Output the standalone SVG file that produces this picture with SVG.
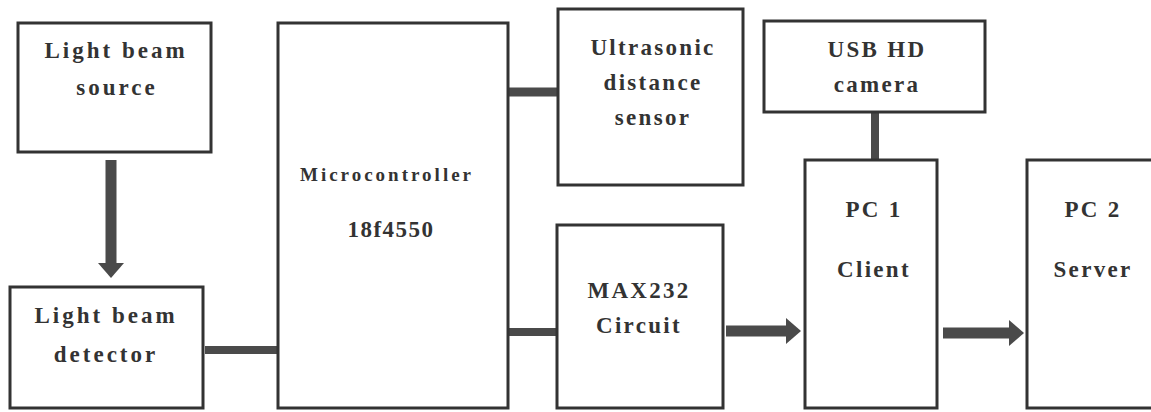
<svg xmlns="http://www.w3.org/2000/svg" width="1151" height="412" viewBox="0 0 1151 412">
<style>
.box{fill:#fff;stroke:#333;stroke-width:3}
.t{font-family:"Liberation Serif","DejaVu Serif",serif;font-weight:bold;font-size:23px;fill:#333;text-anchor:middle;letter-spacing:3px}
.ts{font-size:19px;letter-spacing:3px}
.n{letter-spacing:2.3px}
.c{stroke:#4a4a4a;fill:none}
</style>
<defs>
<marker id="ah" markerUnits="userSpaceOnUse" markerWidth="15" markerHeight="26" viewBox="0 0 15 26" refX="0" refY="13" orient="auto">
<path d="M0,0 L15,13 L0,26 z" fill="#4a4a4a"/>
</marker>
</defs>
<rect width="1151" height="412" fill="#fff"/>
<g id="connectors">
<line class="c" x1="111" y1="160" x2="111" y2="263" stroke-width="11" marker-end="url(#ah)"/>
<line class="c" x1="205" y1="350" x2="278" y2="350" stroke-width="8"/>
<line class="c" x1="508" y1="92" x2="558" y2="92" stroke-width="9"/>
<line class="c" x1="508" y1="332" x2="557" y2="332" stroke-width="8"/>
<line class="c" x1="726" y1="331" x2="786" y2="331" stroke-width="11" marker-end="url(#ah)"/>
<line class="c" x1="875" y1="112" x2="875" y2="160" stroke-width="8"/>
<line class="c" x1="943" y1="333" x2="1009" y2="333" stroke-width="11" marker-end="url(#ah)"/>
</g>
<g id="source">
<rect class="box" x="18" y="23" width="193" height="129"/>
<text class="t" x="116" y="58">Light beam</text>
<text class="t" x="117" y="95">source</text>
</g>
<g id="detector">
<rect class="box" x="10" y="287" width="193" height="121"/>
<text class="t" x="106" y="323">Light beam</text>
<text class="t" x="106" y="362">detector</text>
</g>
<g id="micro">
<rect class="box" x="278" y="23" width="230" height="385"/>
<text class="t ts" x="387" y="181">Microcontroller</text>
<text class="t" x="391" y="237" style="letter-spacing:1.5px">18f4550</text>
</g>
<g id="ultrasonic">
<rect class="box" x="558" y="9" width="185" height="176"/>
<text class="t n" x="653" y="55">Ultrasonic</text>
<text class="t n" x="653" y="90">distance</text>
<text class="t n" x="653" y="125">sensor</text>
</g>
<g id="max232">
<rect class="box" x="557" y="225" width="166" height="183"/>
<text class="t n" x="639" y="298">MAX232</text>
<text class="t n" x="639" y="333">Circuit</text>
</g>
<g id="camera">
<rect class="box" x="764" y="21" width="221" height="91"/>
<text class="t n" x="877" y="57">USB HD</text>
<text class="t n" x="877" y="92">camera</text>
</g>
<g id="pc1">
<rect class="box" x="805" y="160" width="132" height="248"/>
<text class="t n" x="874" y="217">PC 1</text>
<text class="t n" x="874" y="277">Client</text>
</g>
<g id="pc2">
<rect class="box" x="1027" y="160" width="140" height="248"/>
<text class="t n" x="1093" y="217">PC 2</text>
<text class="t n" x="1093" y="277">Server</text>
</g>
</svg>
